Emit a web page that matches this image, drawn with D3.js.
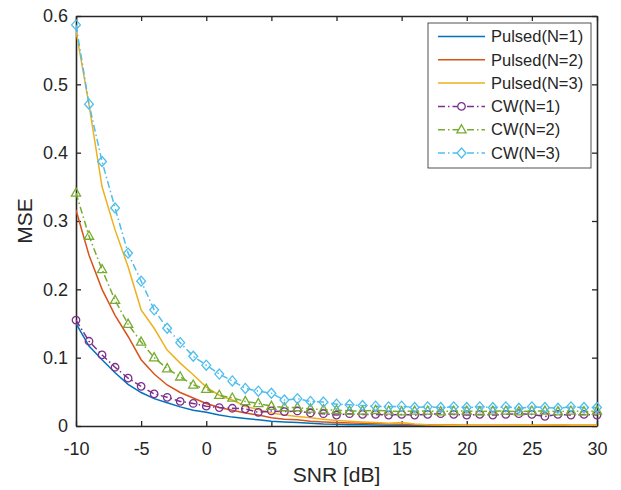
<!DOCTYPE html>
<html>
<head>
<meta charset="utf-8">
<script src="https://cdn.jsdelivr.net/npm/d3@7"></script>
<style>
  body { margin: 0; background: #fff; }
  svg text { font-family: "Liberation Sans", Arial, sans-serif; fill: #262626; }
</style>
</head>
<body>
<svg width="621" height="490"></svg>
<script>
// SNR grid [dB]
var snr = [-10,-9,-8,-7,-6,-5,-4,-3,-2,-1,0,1,2,3,4,5,6,7,8,9,10,
           11,12,13,14,15,16,17,18,19,20,21,22,23,24,25,26,27,28,29,30];

var pulsed1 = [0.150,0.117,0.097,0.078,0.061,0.049,0.040,0.034,0.028,0.023,0.020,
               0.016,0.013,0.011,0.009,0.007,0.006,0.005,0.004,0.003,0.0025,
               0.002,0.0018,0.0015,0.0012,0.001,0.0008,0.0007,0.0006,0.0005,0.0005,
               0.0004,0.0004,0.0004,0.0003,0.0003,0.0003,0.0003,0.0003,0.0003,0.0003];
var pulsed2 = [0.316,0.250,0.200,0.162,0.131,0.097,0.076,0.060,0.049,0.041,0.033,
               0.027,0.023,0.019,0.016,0.012,0.010,0.009,0.007,0.006,0.005,
               0.0045,0.004,0.0035,0.003,0.0025,0.002,0.0018,0.0015,0.0013,0.0012,
               0.0012,0.0011,0.001,0.001,0.001,0.0012,0.0013,0.001,0.001,0.001];
var pulsed3 = [0.578,0.470,0.350,0.287,0.233,0.170,0.143,0.111,0.092,0.075,0.057,
               0.045,0.038,0.029,0.024,0.019,0.016,0.014,0.012,0.010,0.008,
               0.007,0.006,0.005,0.004,0.005,0.003,0.002,0.0015,0.001,0.001,
               0.001,0.001,0.001,0.001,0.0012,0.0015,0.002,0.0012,0.001,0.001];
var cw1 = [0.155,0.124,0.104,0.086,0.070,0.058,0.047,0.042,0.036,0.033,0.029,
           0.027,0.026,0.025,0.020,0.022,0.021,0.022,0.019,0.018,0.016,
           0.018,0.017,0.017,0.016,0.017,0.016,0.017,0.018,0.017,0.016,
           0.017,0.016,0.017,0.018,0.017,0.014,0.017,0.016,0.017,0.016];
var cw2 = [0.341,0.278,0.229,0.184,0.149,0.123,0.100,0.084,0.072,0.060,0.054,
           0.045,0.041,0.036,0.033,0.029,0.027,0.027,0.025,0.024,0.023,
           0.022,0.022,0.023,0.022,0.021,0.022,0.022,0.021,0.022,0.022,
           0.021,0.022,0.022,0.021,0.022,0.022,0.021,0.022,0.021,0.022];
var cw3 = [0.587,0.471,0.387,0.319,0.253,0.212,0.170,0.143,0.122,0.102,0.089,
           0.076,0.066,0.055,0.051,0.048,0.038,0.040,0.036,0.035,0.032,
           0.031,0.030,0.029,0.028,0.029,0.027,0.028,0.027,0.028,0.027,
           0.028,0.027,0.028,0.026,0.028,0.027,0.026,0.028,0.027,0.027];

var seriesNames = ["Pulsed(N=1)","Pulsed(N=2)","Pulsed(N=3)","CW(N=1)","CW(N=2)","CW(N=3)"];
var xTicks = [-10,-5,0,5,10,15,20,25,30];
var yTicks = [0,0.1,0.2,0.3,0.4,0.5,0.6];

var series = [
  {name: seriesNames[0], values: pulsed1, color: "#0072BD", dash: null, marker: null},
  {name: seriesNames[1], values: pulsed2, color: "#D95319", dash: null, marker: null},
  {name: seriesNames[2], values: pulsed3, color: "#EDB120", dash: null, marker: null},
  {name: seriesNames[3], values: cw1, color: "#7E2F8E", dash: "7,3,1.5,3", marker: "circle"},
  {name: seriesNames[4], values: cw2, color: "#77AC30", dash: "7,3,1.5,3", marker: "triangle"},
  {name: seriesNames[5], values: cw3, color: "#4DBEEE", dash: "7,3,1.5,3", marker: "diamond"}
];

var svg = d3.select("svg"),
    margin = {top: 16, right: 24, bottom: 64, left: 76},
    width = +svg.attr("width") - margin.left - margin.right,
    height = +svg.attr("height") - margin.top - margin.bottom;

var x = d3.scaleLinear().domain([-10, 30]).range([0, width]);
var y = d3.scaleLinear().domain([0, 0.6]).range([height, 0]);

var g = svg.append("g").attr("transform", "translate(" + margin.left + "," + margin.top + ")");

var axisColor = "#262626";

// axes, ticks pointing in, box on all sides
var xAxis = g.append("g")
    .attr("transform", "translate(0," + height + ")")
    .call(d3.axisBottom(x).tickValues(xTicks).tickSizeInner(-5).tickSizeOuter(0).tickPadding(16)
      .tickFormat(function(d) { return String(d); }));
var yAxis = g.append("g")
    .call(d3.axisLeft(y).tickValues(yTicks).tickSizeInner(-5).tickSizeOuter(0).tickPadding(8)
      .tickFormat(function(d) { return d === 0 ? "0" : d3.format(".1f")(d); }));
g.append("g")
    .call(d3.axisTop(x).tickValues(xTicks).tickSizeInner(-5).tickSizeOuter(0).tickFormat(""));
g.append("g")
    .attr("transform", "translate(" + width + ",0)")
    .call(d3.axisRight(y).tickValues(yTicks).tickSizeInner(-5).tickSizeOuter(0).tickFormat(""));

g.selectAll(".domain").attr("stroke", axisColor).attr("stroke-width", 1.6);
g.selectAll(".tick line").attr("stroke", axisColor).attr("stroke-width", 1.3);
g.selectAll(".tick text")
    .attr("font-family", null)
    .style("font-size", "18px")
    .attr("fill", axisColor);

// clip so lines stay inside the box
g.append("clipPath").attr("id", "clip")
  .append("rect").attr("width", width).attr("height", height);

var line = d3.line()
    .x(function(d, i) { return x(snr[i]); })
    .y(function(d) { return y(d); });

var plot = g.append("g").attr("clip-path", "url(#clip)");

function markerPath(type) {
  if (type == "circle") return d3.symbol().type(d3.symbolCircle).size(44)();
  if (type == "triangle") return "M0,-5L4.6,3.2L-4.6,3.2Z";
  return "M0,-5L4.4,0L0,5L-4.4,0Z";
}

// lines first, then the open markers of the cw series
series.forEach(function(s) {
  plot.append("path")
      .datum(s.values)
      .attr("fill", "none")
      .attr("stroke", s.color)
      .attr("stroke-width", 1.5)
      .attr("stroke-dasharray", s.dash)
      .attr("d", line);
});
series.forEach(function(s) {
  if (!s.marker) return;
  g.append("g").selectAll("path")
      .data(s.values)
      .enter().append("path")
      .attr("transform", function(d, i) { return "translate(" + x(snr[i]) + "," + y(d) + ")"; })
      .attr("d", markerPath(s.marker))
      .attr("fill", "none")
      .attr("stroke", s.color)
      .attr("stroke-width", 1.3);
});

// axis titles
svg.append("text")
    .attr("x", margin.left + width / 2)
    .attr("y", 482)
    .attr("text-anchor", "middle")
    .style("font-size", "21px")
    .text("SNR [dB]");
svg.append("text")
    .attr("transform", "translate(32," + (margin.top + height / 2) + ") rotate(-90)")
    .attr("text-anchor", "middle")
    .style("font-size", "21px")
    .text("MSE");

// legend
var lx = 352, ly = 7, rowH = 23.3;
var legend = g.append("g").attr("transform", "translate(" + lx + "," + ly + ")");
legend.append("rect")
    .attr("width", 163)
    .attr("height", 145)
    .attr("fill", "#fff")
    .attr("stroke", axisColor)
    .attr("stroke-width", 0.8);

var item = legend.selectAll(".item")
    .data(series)
    .enter().append("g")
    .attr("class", "item")
    .attr("transform", function(d, i) { return "translate(0," + (13.5 + i * rowH) + ")"; });

item.append("line")
    .attr("x1", 10).attr("x2", 57)
    .attr("stroke", function(d) { return d.color; })
    .attr("stroke-width", 1.5)
    .attr("stroke-dasharray", function(d) { return d.dash ? "7,3,1.5,3" : null; });
item.filter(function(d) { return d.marker; })
    .append("path")
    .attr("transform", "translate(33.5,0)")
    .attr("d", function(d) { return markerPath(d.marker); })
    .attr("fill", "#fff")
    .attr("stroke", function(d) { return d.color; })
    .attr("stroke-width", 1.3);
item.append("text")
    .attr("x", 63)
    .attr("dy", "0.35em")
    .style("font-size", "16.5px")
    .text(function(d) { return d.name; });
</script>
</body>
</html>
